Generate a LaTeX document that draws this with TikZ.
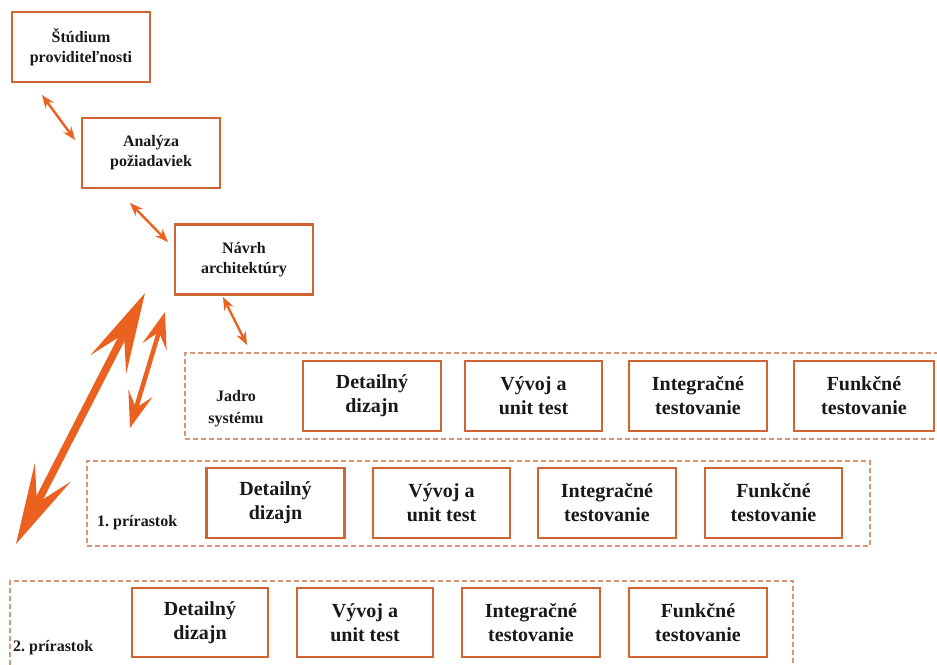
\documentclass[tikz,border=0pt]{standalone}
\usepackage{fontspec}
\setmainfont{Liberation Serif}
\usetikzlibrary{arrows.meta}
\frenchspacing
\definecolor{boxorange}{RGB}{208,100,50}
\definecolor{arroworange}{RGB}{234,97,32}
\definecolor{dashorange}{RGB}{214,150,115}
\definecolor{txt}{RGB}{25,25,25}
\tikzset{
  phase/.style={draw=boxorange, line width=2.8pt, fill=white, align=center,
    text=txt, font=\bfseries\fontsize{16}{20}\selectfont,
    minimum width=138pt, minimum height=70pt, inner sep=0pt},
  stepbox/.style={draw=boxorange, line width=2.8pt, fill=white, align=center,
    text=txt, font=\bfseries\fontsize{20}{24}\selectfont,
    minimum width=138pt, minimum height=70pt, inner sep=0pt},
  group/.style={draw=dashorange, line width=1.4pt, dash pattern=on 5pt off 3pt,
    minimum height=86pt, inner sep=0pt},
  grouplabel/.style={text=txt, font=\bfseries\fontsize{16}{22}\selectfont,
    align=center, inner sep=0pt},
  thinlink/.style={draw=arroworange, line width=2.4pt,
    {Stealth[length=13pt,width=10pt]}-{Stealth[length=13pt,width=10pt]}},
  biglink/.style={draw=arroworange, fill=arroworange, line width=7.5pt,
    {Stealth[length=80pt,width=40pt,inset=34pt]}-{Stealth[length=80pt,width=40pt,inset=34pt]}},
  midlink/.style={draw=arroworange, fill=arroworange, line width=4.5pt,
    {Stealth[length=36pt,width=25pt,inset=15pt]}-{Stealth[length=36pt,width=25pt,inset=15pt]}},
}
\begin{document}
\begin{tikzpicture}[x=1pt,y=-1pt]
\clip (0,0) rectangle (937,664);
\fill[white] (0,0) rectangle (937,664);

% upper phases
\node[phase] (study) at (81,47) {Štúdium\\providiteľnosti};
\node[phase] (req) at (151,153) {Analýza\\požiadaviek};
\node[phase] (arch) at (244,259.5) {Návrh\\architektúry};

% increment frames
\node[group, minimum width=790pt] (core) at (580,396) {};
\node[group, minimum width=783pt, minimum height=85pt] (inc1) at (478.5,503.5) {};
\node[group, minimum width=783pt, minimum height=99pt] (inc2) at (401.5,630.5) {};

\node[grouplabel] (corelbl) at (236,409) {Jadro\\systému};
\node[grouplabel, anchor=west] (inc1lbl) at (97,523) {1. prírastok};
\node[grouplabel, anchor=west] (inc2lbl) at (13,648) {2. prírastok};

% core system
\node[stepbox] (c1) at (372,396) {Detailný\\dizajn};
\node[stepbox, minimum width=137pt] (c2) at (533.5,396) {Vývoj a\\unit test};
\node[stepbox] (c3) at (698,396) {Integračné\\testovanie};
\node[stepbox, minimum width=140pt] (c4) at (864,396) {Funkčné\\testovanie};

% increment 1
\node[stepbox] (a1) at (275.5,503) {Detailný\\dizajn};
\node[stepbox, minimum width=137pt] (a2) at (441.5,503) {Vývoj a\\unit test};
\node[stepbox] (a3) at (607,503) {Integračné\\testovanie};
\node[stepbox, minimum width=137pt] (a4) at (773.5,503) {Funkčné\\testovanie};

% increment 2
\node[stepbox, minimum width=136pt, minimum height=69pt] (b1) at (200,622.5) {Detailný\\dizajn};
\node[stepbox, minimum width=136pt, minimum height=69pt] (b2) at (365,622.5) {Vývoj a\\unit test};
\node[stepbox, minimum height=69pt] (b3) at (531,622.5) {Integračné\\testovanie};
\node[stepbox, minimum height=69pt] (b4) at (698,622.5) {Funkčné\\testovanie};

% link end points
\coordinate (s1) at (42,95);
\coordinate (s2) at (75,140);
\coordinate (r1) at (130,203);
\coordinate (r2) at (168,242);
\coordinate (n1) at (223,297);
\coordinate (n2) at (247,345);
\coordinate (g1) at (145,293);
\coordinate (g2) at (16,544);
\coordinate (m1) at (165,312);
\coordinate (m2) at (130,428);

\draw[thinlink] (s1) -- (s2);
\draw[thinlink] (r1) -- (r2);
\draw[thinlink] (n1) -- (n2);
\draw[biglink] (g1) -- (g2);
\draw[midlink] (m1) -- (m2);
\end{tikzpicture}
\end{document}
